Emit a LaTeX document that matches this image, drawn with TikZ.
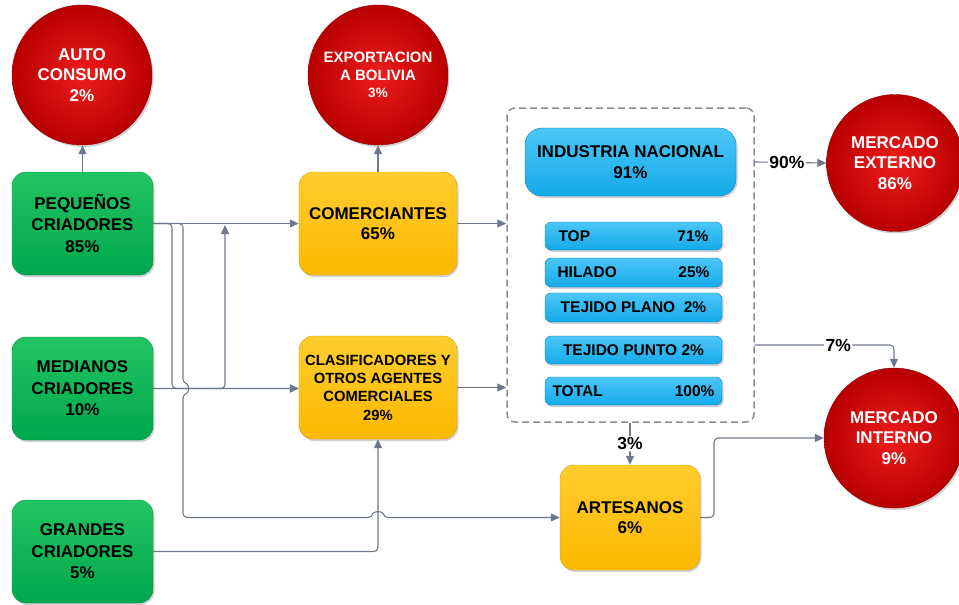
\documentclass[tikz,border=0pt]{standalone}
\usepackage{fontspec}
\setmainfont{Liberation Sans}
\usetikzlibrary{arrows.meta,shadows,calc}
\definecolor{gtop}{HTML}{22C462}
\definecolor{gbot}{HTML}{00A84C}
\definecolor{otop}{HTML}{FFCC2E}
\definecolor{obot}{HTML}{FCB900}
\definecolor{btop}{HTML}{4CC6F7}
\definecolor{bbot}{HTML}{14AAEA}
\definecolor{rin}{HTML}{EE1C1C}
\definecolor{rout}{HTML}{B80000}
\definecolor{linec}{HTML}{6E788C}
\begin{document}
\begin{tikzpicture}[x=1pt,y=-1pt,
  shad/.style={drop shadow={shadow xshift=1.5pt,shadow yshift=-2pt,opacity=0.3,fill=black!60}},
  gbox/.style={rectangle,rounded corners=14pt,minimum width=141pt,minimum height=103pt,
    top color=gtop,bottom color=gbot,draw=gbot!85!black,line width=0.4pt,align=center,
    font=\fontsize{17}{21.5}\selectfont\bfseries,shad},
  obox/.style={rectangle,rounded corners=14pt,minimum width=158pt,minimum height=103pt,
    top color=otop,bottom color=obot,draw=obot!85!black,line width=0.4pt,align=center,
    font=\fontsize{17}{20.5}\selectfont\bfseries,shad},
  bbox/.style={rectangle,rounded corners=6pt,minimum width=177pt,minimum height=28pt,
    top color=btop,bottom color=bbot,draw=bbot!75!black,line width=0.4pt,inner xsep=0pt,
    font=\fontsize{15.5}{18}\selectfont\bfseries,shad},
  rcirc/.style={circle,minimum size=140pt,inner sep=0pt,shading=radial,inner color=rin,
    outer color=rout,draw=rout!80!black,line width=0.4pt,align=center,text=white,
    font=\fontsize{17}{20.5}\selectfont\bfseries,shad},
  conn/.style={draw=linec,line width=1.1pt,rounded corners=4pt},
  arr/.style={-{Triangle[length=9pt,width=8pt]}},
  lab/.style={fill=white,inner sep=1.5pt,font=\fontsize{17.5}{20}\selectfont\bfseries}
]
\useasboundingbox (0,0) rectangle (959,605);

% circles
\node[rcirc] (auto) at (82,75) {AUTO\\CONSUMO\\2\%};
\node[rcirc,font=\fontsize{15}{17.5}\selectfont\bfseries] (exp) at (378,75) {EXPORTACION\\A BOLIVIA\\{\fontsize{13.5}{15}\selectfont 3\%}};
\node[rcirc,minimum size=137pt] (ext) at (895,163) {MERCADO\\EXTERNO\\86\%};
\node[rcirc] (int) at (894,438) {MERCADO\\INTERNO\\9\%};

% producers
\node[gbox] (peq) at (82.5,223.5) {PEQUEÑOS\\CRIADORES\\85\%};
\node[gbox] (med) at (82.5,388.5) {MEDIANOS\\CRIADORES\\10\%};
\node[gbox] (gra) at (82.5,551.5) {GRANDES\\CRIADORES\\5\%};

% intermediaries
\node[obox] (com) at (378,223.5) {COMERCIANTES\\65\%};
\node[obox,font=\fontsize{14.8}{18.3}\selectfont\bfseries] (cla) at (378,387.5) {CLASIFICADORES Y\\OTROS AGENTES\\COMERCIALES\\29\%};
\node[obox,minimum width=140pt,minimum height=105pt] (art) at (630,517.5) {ARTESANOS\\6\%};

% industry group
\node[draw=black!45,dashed,dash pattern=on 7pt off 4pt,line width=1.5pt,rounded corners=8pt,
  minimum width=247pt,minimum height=314pt] (ind) at (630.5,265) {};
\node[bbox,rounded corners=17pt,minimum width=211pt,minimum height=68pt,align=center,
  font=\fontsize{17}{21}\selectfont\bfseries] (nac) at (630.5,162) {INDUSTRIA NACIONAL\\91\%};
\node[bbox] (top) at (633.5,236) {\makebox[150pt]{TOP\hfill 71\%}};
\node[bbox,minimum height=29pt] (hil) at (633.5,272.5) {\makebox[152pt]{HILADO\hfill 25\%}};
\node[bbox,minimum height=29pt] (pla) at (633.5,307.5) {TEJIDO PLANO\ \ 2\%};
\node[bbox] (pun) at (633.5,350) {TEJIDO PUNTO\ 2\%};
\node[bbox] (tot) at (633.5,391) {\makebox[162pt]{TOTAL\hfill 100\%}};

% connectors
\draw[conn,arr] (peq.north) -- (peq.north |- auto.south);
\draw[conn,arr] (com.north) -- (com.north |- exp.south);
\draw[conn,arr] (peq.east) -- (com.west);
\draw[conn,arr] (peq.east) -- (172,223.5) -- (172,388.5) -- (cla.west |- 0,388.5);
\draw[conn,arr] (med.east) -- (cla.west |- med.east);
\coordinate (j1) at (225,225);
\draw[conn,arr] (med.east) -- (225,388.5) -- (j1);
\draw[conn,arr] (peq.east) -- (183,223.5) -- (183,383)
  .. controls (189,384.5) and (189,392.5) .. (183,394) -- (183,517.5) -- (372,517.5)
  .. controls (373.5,511) and (382.5,511) .. (384,517.5) -- (art.west);
\draw[conn,arr] (gra.east) -- (378,551.5) -- (cla.south);
\draw[conn,arr] (com.east) -- (com.east -| ind.west);
\draw[conn,arr] (cla.east) -- (cla.east -| ind.west);
\draw[conn,arr] (nac.east -| ind.east) -- node[lab,pos=0.45]{90\%} (ext.west);
\coordinate (s7) at (ind.east |- 0,345);
\draw[conn,arr] (s7) -- node[lab,pos=0.6]{7\%} (s7 -| int.north) -- (int.north);
\draw[conn,arr] (ind.south -| art.north) -- node[lab]{3\%} (art.north);
\draw[conn,arr] (art.east) -- (714,517.5) -- (714,438) -- (int.west);
\end{tikzpicture}
\end{document}
